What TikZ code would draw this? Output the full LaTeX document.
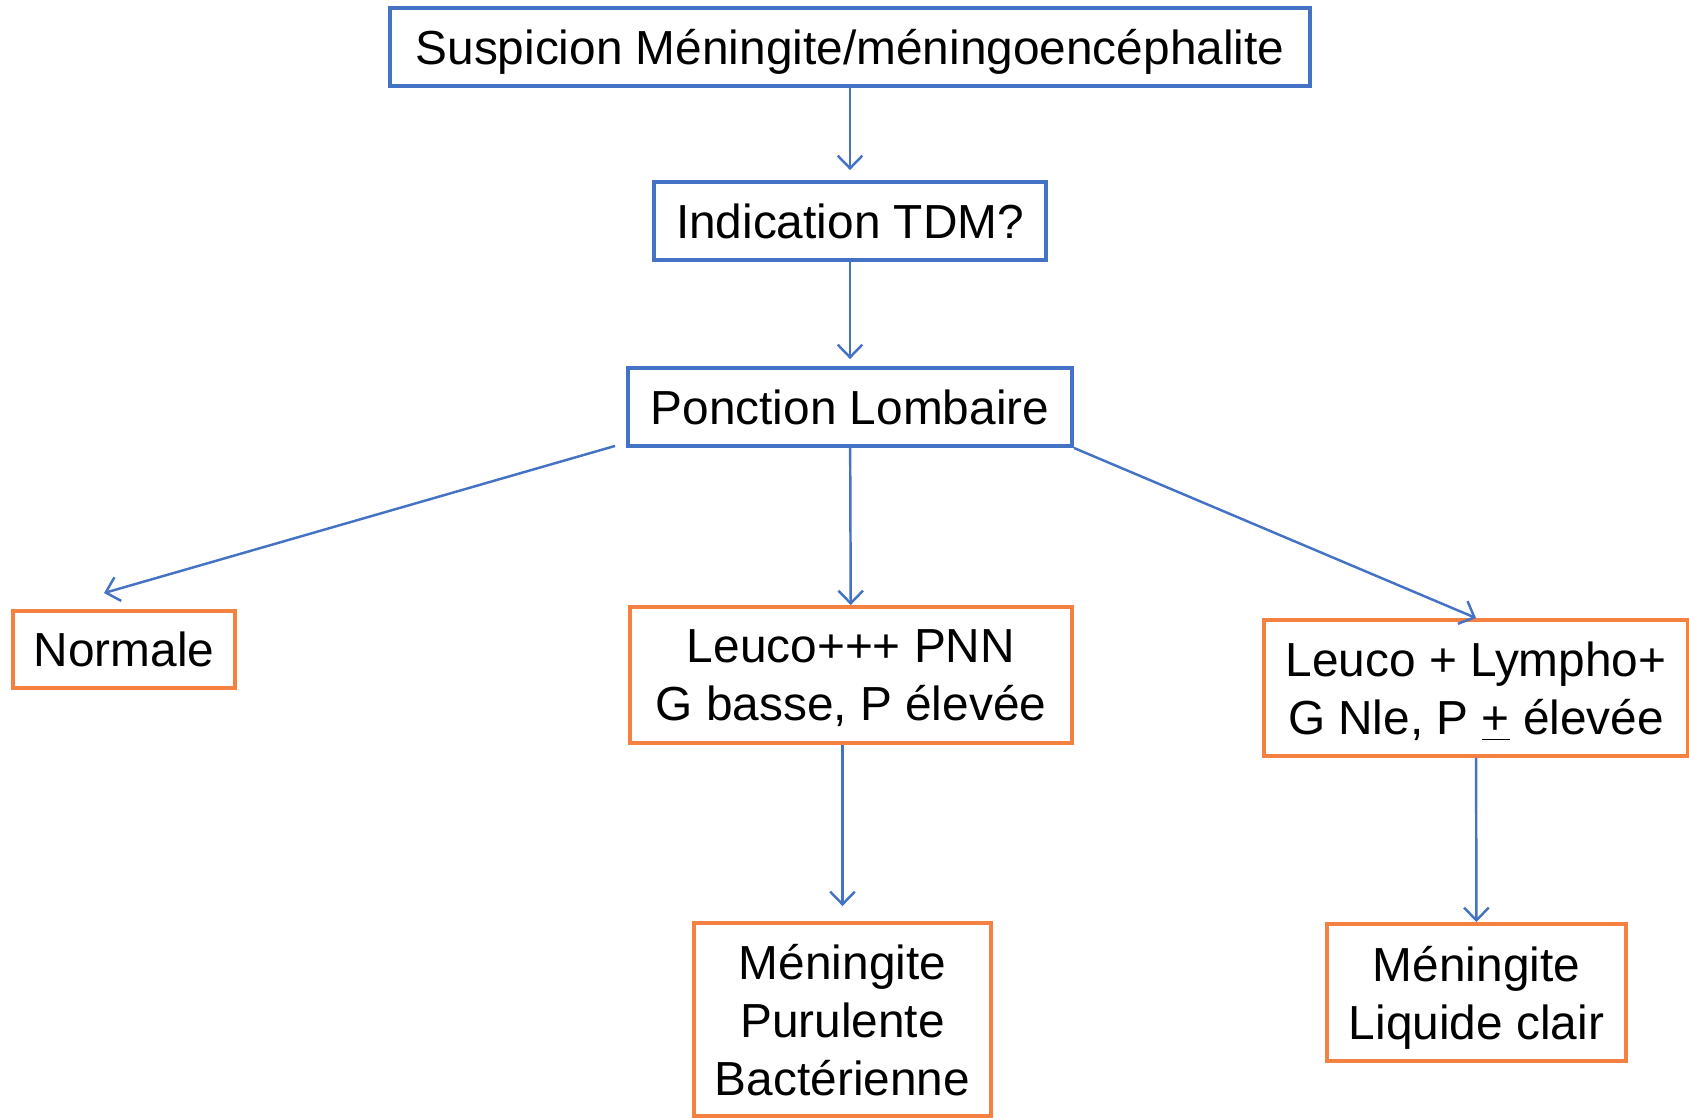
\documentclass[tikz,border=0pt]{standalone}
\usepackage{fontspec}
\setmainfont{Liberation Sans}
\usepackage{xcolor}
\definecolor{boxblue}{RGB}{68, 114, 196}
\definecolor{boxorange}{RGB}{244, 128, 66}
\usepackage{tikz}
\usetikzlibrary{arrows.meta,calc}

\tikzset{
    bluebox/.style={draw=boxblue, line width=1.1pt, inner sep=0pt, text depth=0pt, align=center, font=\fontsize{13.6}{16.5}\selectfont},
    orangebox/.style={draw=boxorange, line width=1.1pt, inner sep=0pt, text depth=0pt, align=center, font=\fontsize{13.6}{16.5}\selectfont},
    link/.style={draw=boxblue, line width=0.7pt, -{Straight Barb[length=3.6pt,width=7pt,line width=0.7pt]}}
}

\begin{document}
\begin{tikzpicture}
    \useasboundingbox (0, 0) rectangle (16.89, -11.17);

    % Blue boxes
    \node[bluebox, minimum width=9.20cm, minimum height=0.78cm] (susp) at (8.50, -0.474) {Suspicion Méningite/méningoencéphalite};
    \node[bluebox, minimum width=3.92cm, minimum height=0.78cm] (tdm) at (8.50, -2.21) {Indication TDM?};
    \node[bluebox, minimum width=4.44cm, minimum height=0.78cm] (pl) at (8.50, -4.07) {Ponction Lombaire};

    % Orange boxes
    \node[orangebox, minimum width=2.22cm, minimum height=0.77cm] (norm) at (1.24, -6.495) {Normale};
    \node[orangebox, minimum width=4.42cm, minimum height=1.36cm] (pnn) at (8.51, -6.75) {Leuco+++ PNN\\G basse, P élevée};
    \node[orangebox, minimum width=4.24cm, minimum height=1.36cm] (lymph) at (14.76, -6.88) {Leuco + Lympho+\\G Nle, P \underline{+} élevée};
    \node[orangebox, minimum width=2.97cm, minimum height=1.93cm] (bact) at (8.425, -10.195) {Méningite\\Purulente\\Bactérienne};
    \node[orangebox, minimum width=2.99cm, minimum height=1.37cm] (clair) at (14.765, -9.925) {Méningite\\Liquide clair};

    % Arrows
    \draw[link, shorten >=0.1cm] (susp) -- (tdm);
    \draw[link, shorten >=0.07cm] (tdm) -- (pl);
    \draw[link] ([xshift=-0.11cm, yshift=0.02cm]pl.south west) -- ([xshift=-0.2cm, yshift=0.16cm]norm.north);
    \draw[link] (pl) -- (pnn);
    \draw[link] (pl.south east) -- (lymph.north);
    \draw[link, shorten >=0.15cm] (pnn.south -| bact.north) -- (bact.north);
    \draw[link] (lymph) -- (clair);
\end{tikzpicture}
\end{document}
